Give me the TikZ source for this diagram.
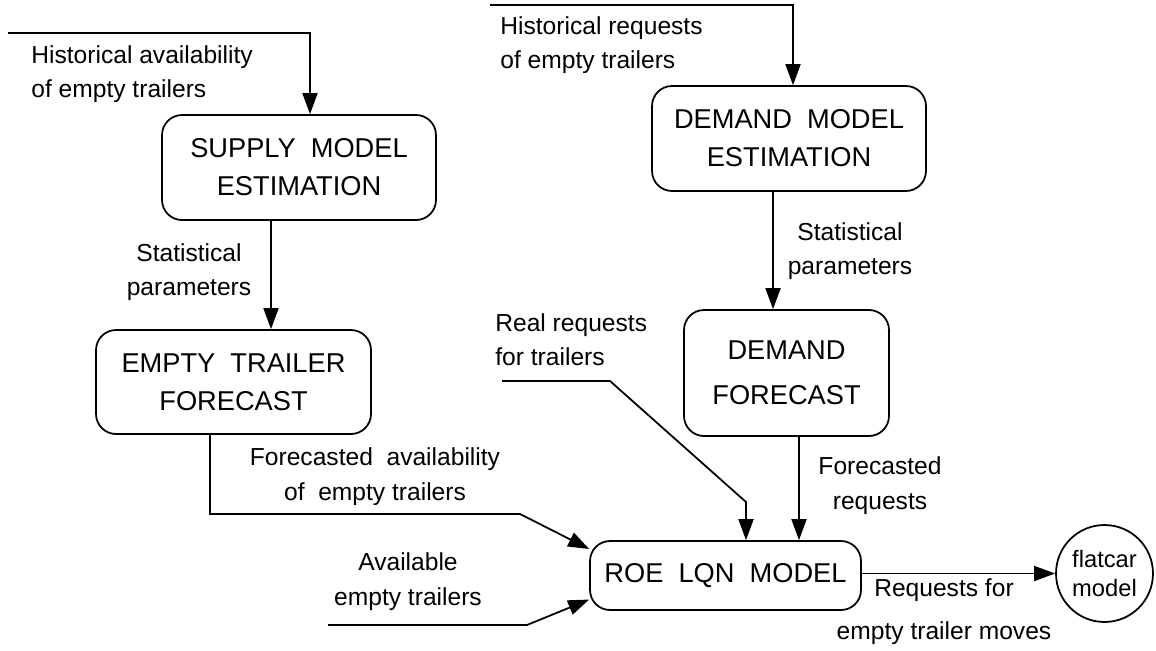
\documentclass[tikz,border=0pt]{standalone}
\usepackage{fontspec}
\setmainfont{Liberation Sans}
\usetikzlibrary{arrows.meta}

\begin{document}
\begin{tikzpicture}[x=0.02cm,y=-0.02cm,
  box/.style={draw,rounded corners=0.4cm,line width=1pt,align=center,inner sep=0pt,
    font=\fontsize{15.5}{21.6}\selectfont},
  lbl/.style={inner sep=0pt,font=\fontsize{14}{19.5}\selectfont},
  arr/.style={line width=1pt,-{Triangle[length=0.42cm,width=0.3cm]}}]

\useasboundingbox (0,0) rectangle (1156,650);

% model boxes:
\node[box,minimum width=5.48cm,minimum height=2.1cm] (supply) at (299,167.5) {SUPPLY~ MODEL\\ESTIMATION};
\node[box,minimum width=5.48cm,minimum height=2.1cm] (dmodel) at (789,138.5) {DEMAND~ MODEL\\ESTIMATION};
\node[box,minimum width=5.5cm,minimum height=2.08cm] (eforecast) at (233.5,382) {EMPTY~ TRAILER\\FORECAST};
\node[box,minimum width=4.1cm,minimum height=2.52cm,font=\fontsize{15.5}{25.6}\selectfont] (dforecast) at (786.5,373) {DEMAND\\FORECAST};
\node[box,minimum width=5.42cm,minimum height=1.38cm] (roe) at (725.5,575.5) {ROE~ LQN~ MODEL};
\node[draw,circle,line width=1pt,minimum size=1.94cm,inner sep=0pt,align=center,
  font=\fontsize{13.5}{16.5}\selectfont] (flat) at (1104.5,573.5) {flatcar\\model};

% flow labels:
\node[lbl,align=left,anchor=west] (histAlbl) at (31,74) {Historical availability\\of empty trailers};
\node[lbl,align=left,anchor=west] (histRlbl) at (500,45.5) {Historical requests\\of empty trailers};
\node[lbl,align=center] (statLlbl) at (189,272.5) {Statistical\\parameters};
\node[lbl,align=center] (statRlbl) at (850,251.5) {Statistical\\parameters};
\node[lbl,align=left,anchor=west] (realRlbl) at (495,340) {Real requests\\for trailers};
\node[lbl,align=center] (fcastAlbl) at (375,476.5) {Forecasted~ availability\\of~ empty trailers};
\node[lbl,align=center] (availlbl) at (408,581.5) {Available\\empty trailers};
\node[lbl,align=center] (fcastRlbl) at (880,485.5) {Forecasted\\requests};
\node[lbl,align=center,font=\fontsize{14}{24.5}\selectfont] (movelbl) at (944,612) {Requests for\\empty trailer moves};

% bend points and free ends:
\coordinate (histAin) at (8,33);
\coordinate (histAbend) at (310,33);
\coordinate (histRin) at (490,5);
\coordinate (histRbend) at (793,5);
\coordinate (s2e) at (271,0);
\coordinate (d2d) at (773,0);
\coordinate (e2rbend) at (210,514);
\coordinate (e2rknee) at (520,514);
\coordinate (availin) at (328,625);
\coordinate (availknee) at (527,625);
\coordinate (realin) at (502,381);
\coordinate (realknee) at (610,381);
\coordinate (realdrop) at (746,502);
\coordinate (d2r) at (799,0);

% connectors:
\draw[arr] (histAin) -- (histAbend) -- (histAbend |- supply.north);
\draw[arr] (histRin) -- (histRbend) -- (histRbend |- dmodel.north);
\draw[arr] (supply.south -| s2e) -- (eforecast.north -| s2e);
\draw[arr] (dmodel.south -| d2d) -- (dforecast.north -| d2d);
\draw[arr] (eforecast.south -| e2rbend) -- (e2rbend) -- (e2rknee) -- (roe.169);
\draw[arr] (availin) -- (availknee) -- (roe.190);
\draw[arr] (realin) -- (realknee) -- (realdrop) -- (realdrop |- roe.north);
\draw[arr] (dforecast.south -| d2r) -- (roe.north -| d2r);
\draw[arr] (roe.east |- flat) -- (flat);

\end{tikzpicture}
\end{document}
